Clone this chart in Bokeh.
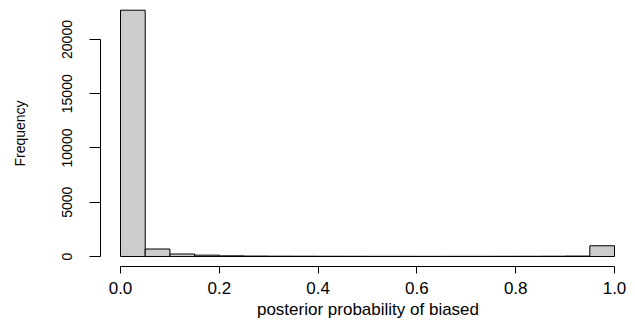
from bokeh.plotting import figure
from bokeh.models import Range1d, FixedTicker, NumeralTickFormatter
from bokeh.embed import file_html
from bokeh.resources import INLINE

# histogram bins (width 0.05) and counts
bin_left = [0.00, 0.05, 0.10, 0.15, 0.20, 0.25, 0.30, 0.35, 0.40, 0.45,
            0.50, 0.55, 0.60, 0.65, 0.70, 0.75, 0.80, 0.85, 0.90, 0.95]
bin_right = [0.05, 0.10, 0.15, 0.20, 0.25, 0.30, 0.35, 0.40, 0.45, 0.50,
             0.55, 0.60, 0.65, 0.70, 0.75, 0.80, 0.85, 0.90, 0.95, 1.00]
counts = [22700, 690, 230, 125, 60, 40, 30, 25, 20, 18,
          15, 15, 14, 15, 15, 18, 20, 25, 40, 990]

x_ticks = [0.0, 0.2, 0.4, 0.6, 0.8, 1.0]
y_ticks = [0, 5000, 10000, 15000, 20000]
x_title = "posterior probability of biased"
y_title = "Frequency"

FONT = "Liberation Sans"

p = figure(width=635, height=321, output_backend="svg", toolbar_location=None,
           x_range=Range1d(-0.0405, 1.0425), y_range=Range1d(-921.7, 23594),
           min_border_left=100, min_border_right=0, min_border_top=0,
           min_border_bottom=55)
p.outline_line_color = None
p.grid.visible = False
p.background_fill_color = "white"
p.border_fill_color = "white"

p.quad(left=bin_left, right=bin_right, bottom=0, top=counts,
       fill_color="#CCCCCC", line_color="black", line_width=1)

# x axis
xa = p.xaxis[0]
xa.ticker = FixedTicker(ticks=x_ticks)
xa.formatter = NumeralTickFormatter(format="0.0")
xa.bounds = (0, 1)
xa.minor_tick_line_color = None
xa.major_tick_out = 7
xa.major_tick_in = 0
xa.major_label_standoff = 8
xa.major_label_text_font = FONT
xa.major_label_text_font_size = "17px"
xa.major_label_text_color = "black"
xa.axis_label = x_title
xa.axis_label_text_font = FONT
xa.axis_label_text_font_size = "17px"
xa.axis_label_text_font_style = "normal"
xa.axis_label_text_color = "black"
xa.axis_label_standoff = 3
xa.axis_line_color = "black"
xa.major_tick_line_color = "black"

# y axis
ya = p.yaxis[0]
ya.ticker = FixedTicker(ticks=y_ticks)
ya.formatter = NumeralTickFormatter(format="0")
ya.bounds = (0, 20000)
ya.minor_tick_line_color = None
ya.major_tick_out = 11
ya.major_tick_in = 0
ya.major_label_orientation = "vertical"
ya.major_label_standoff = 17
ya.major_label_text_font = FONT
ya.major_label_text_font_size = "14px"
ya.major_label_text_color = "black"
ya.axis_label = y_title
ya.axis_label_text_font = FONT
ya.axis_label_text_font_size = "14px"
ya.axis_label_text_font_style = "normal"
ya.axis_label_text_color = "black"
ya.axis_label_standoff = 32
ya.axis_line_color = "black"
ya.major_tick_line_color = "black"

open("out.html", "w").write(file_html(p, INLINE))
